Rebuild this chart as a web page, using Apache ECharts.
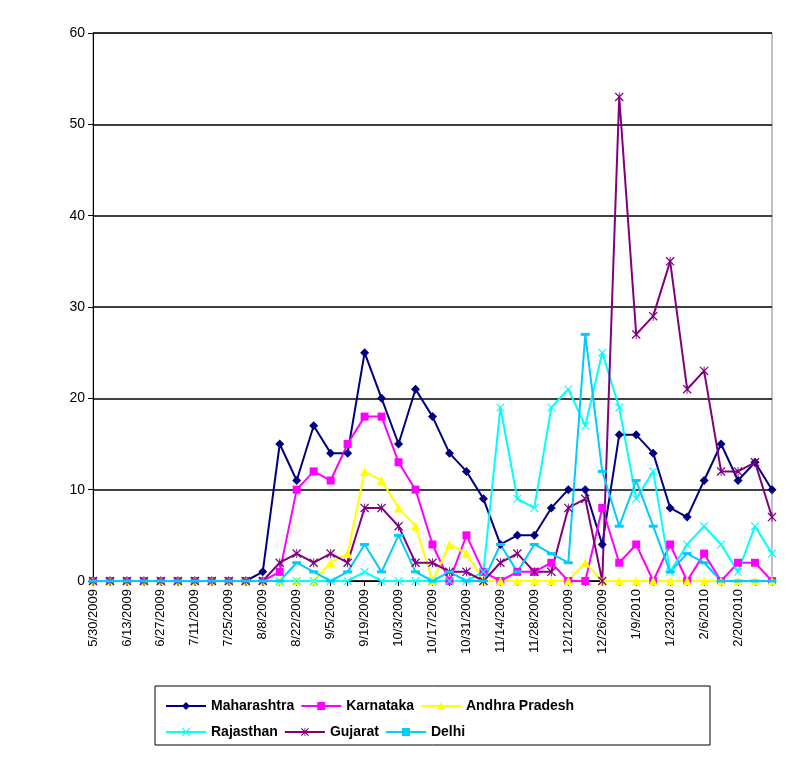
<!DOCTYPE html>
<html><head><meta charset="utf-8">
<script src="https://cdn.jsdelivr.net/npm/echarts@6/dist/echarts.min.js"></script>
<style>html,body{margin:0;background:#fff}#main{width:791px;height:777px}</style>
</head><body><div id="main"></div>
<script>
var dates = [];
(function(){ var d = new Date(2009,4,30); for (var i=0;i<41;i++){ dates.push((d.getMonth()+1)+'/'+d.getDate()+'/'+d.getFullYear()); d.setDate(d.getDate()+7);} })();
var z10 = [0,0,0,0,0,0,0,0,0,0];
var maharashtra = z10.concat([1,15,11,17,14,14,25,20,15,21,18,14,12,9,4,5,5,8,10,10,4,16,16,14,8,7,11,15,11,13,10]);
var karnataka   = z10.concat([0,1,10,12,11,15,18,18,13,10,4,0,5,1,0,1,1,2,0,0,8,2,4,0,4,0,3,0,2,2,0]);
var andhra      = z10.concat([0,0,0,0,2,3,12,11,8,6,0,4,3,0,0,0,0,0,0,2,0,0,0,0,0,0,0,0,0,0,0]);
var rajasthan   = z10.concat([0,0,0,0,0,0,1,0,0,0,0,0,0,1,19,9,8,19,21,17,25,19,9,12,1,4,6,4,1,6,3]);
var gujarat     = z10.concat([0,2,3,2,3,2,8,8,6,2,2,1,1,0,2,3,1,1,8,9,0,53,27,29,35,21,23,12,12,13,7]);
var delhi       = z10.concat([0,0,2,1,0,1,4,1,5,1,0,1,0,0,4,1,4,3,2,27,12,6,11,6,1,3,2,0,0,0,0]);

var xMark = 'path://M0,0 L1,0 L10,9 L10,10 L9,10 L0,1 Z M10,0 L10,1 L1,10 L0,10 L0,9 L9,0 Z';
var starMark = 'path://M0,1 L1,0 L10,9 L9,10 Z M9,0 L10,1 L1,10 L0,9 Z M4.5,0 L5.5,0 L5.5,10 L4.5,10 Z';
function s(name, data, color, symbol, size){
  return {name:name, type:'line', data:data, symbol:symbol, symbolSize:size,
    lineStyle:{color:color,width:2}, itemStyle:{color:color}, color:color};
}
var legText = {color:'#000',fontFamily:'Arial',fontWeight:'bold',fontSize:14,width:112,overflow:'truncate'};
var chart = echarts.init(document.getElementById('main'));
chart.setOption({
  animation:false,
  grid:{left:93,right:19,top:33,bottom:196,show:true,borderColor:'#808080',borderWidth:1},
  xAxis:{type:'category',data:dates,boundaryGap:false,
    axisLine:{lineStyle:{color:'#000'}},axisTick:{interval:0,lineStyle:{color:'#000'}},
    axisLabel:{rotate:90,interval:1,color:'#000',fontFamily:'Arial',fontSize:13,
      formatter:function(v,i){return i===40?'':v;}}},
  yAxis:{type:'value',min:0,max:60,interval:10,
    axisLine:{show:true,lineStyle:{color:'#000'}},axisTick:{show:true},
    splitLine:{lineStyle:{color:'#000',width:1.5}},
    axisLabel:{color:'#000',fontFamily:'Arial',fontSize:14}},
  graphic:[{type:'rect',shape:{x:155,y:686,width:555,height:59},style:{fill:'none',stroke:'#000',lineWidth:1}}],
  legend:[
    {data:['Maharashtra','Karnataka','Andhra Pradesh'],left:160,top:694,itemGap:6,itemWidth:40,itemHeight:10,textStyle:legText},
    {data:['Rajasthan','Gujarat','Delhi'],left:160,top:720,itemGap:6,itemWidth:40,itemHeight:10,textStyle:legText}
  ],
  series:[
    s('Maharashtra',maharashtra,'#000080','diamond',9),
    s('Karnataka',karnataka,'#ff00ff','rect',8),
    s('Andhra Pradesh',andhra,'#ffff00','triangle',9),
    s('Rajasthan',rajasthan,'#00ffff',xMark,8),
    s('Gujarat',gujarat,'#800080',starMark,9),
    s('Delhi',delhi,'#00ccff','rect',[9,3])
  ]
});
</script></body></html>
